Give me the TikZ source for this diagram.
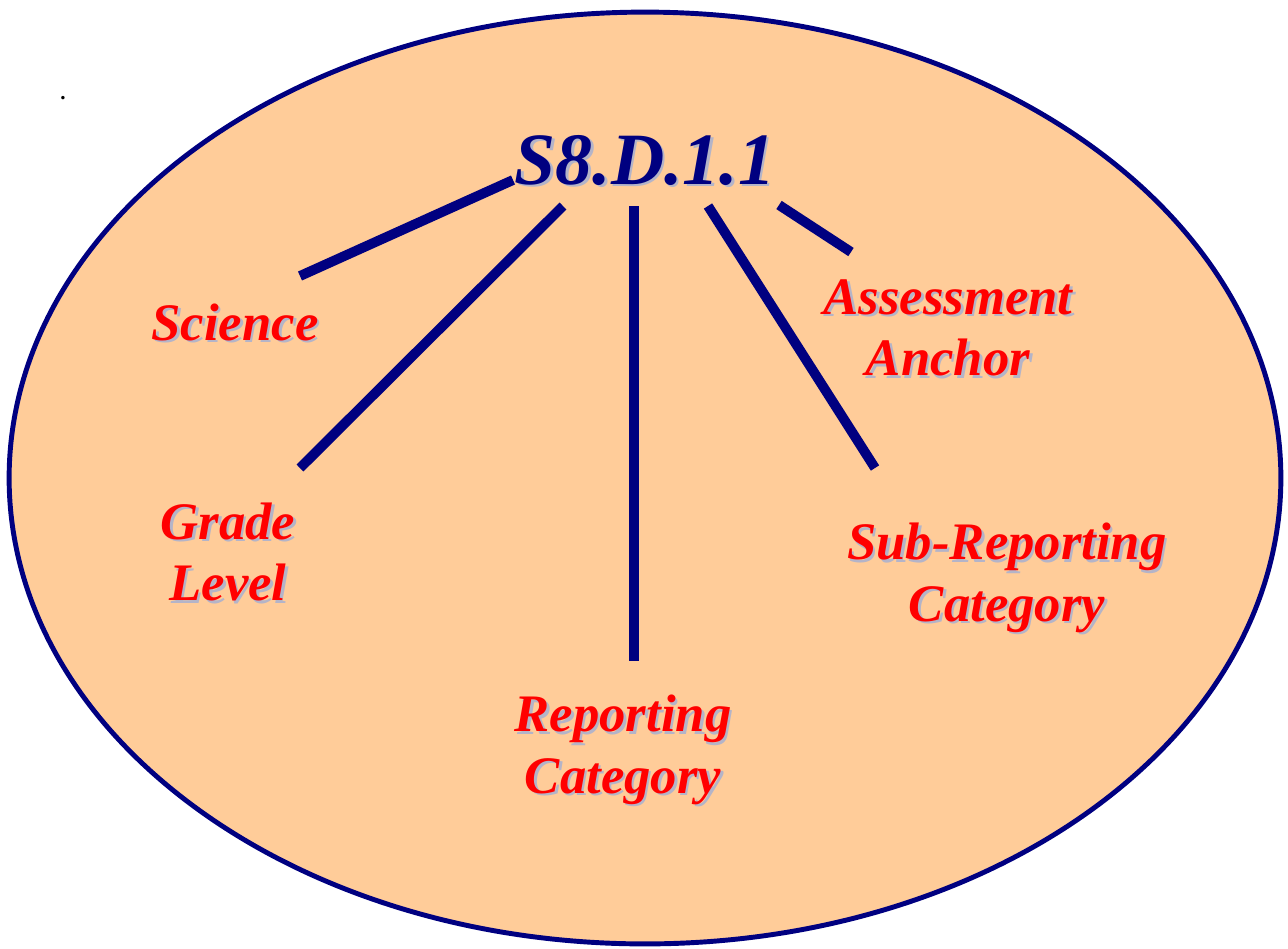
\documentclass[tikz,border=0pt]{standalone}
\usepackage{fontspec}
\setmainfont{Liberation Serif}
\definecolor{peach}{HTML}{FFCC99}
\definecolor{navy}{HTML}{000080}
\definecolor{shade}{HTML}{B4B4C8}
\definecolor{lblred}{HTML}{FF0000}
\newcommand{\shadowlabel}[4]{%
  \node[#3, text=shade, xshift=0.05cm, yshift=-0.05cm] (#1s) at #2 {#4};
  \node[#3] (#1) at #2 {#4};}

\begin{document}
\begin{tikzpicture}[x=0.02cm, y=-0.02cm,
  code/.style={font=\fontsize{42}{42}\selectfont\bfseries\itshape, text=navy, inner sep=0pt},
  tag/.style={font=\fontsize{30}{35}\selectfont\bfseries\itshape, text=lblred, align=center, inner sep=0pt},
  bar/.style={line width=5.6pt, navy}]
\useasboundingbox (0,0) rectangle (1288,948);
\draw[navy, line width=2.8pt, fill=peach] (645,478) ellipse [x radius=12.72cm, y radius=9.32cm];
\node[font=\large\bfseries, inner sep=0pt] (dot) at (63,98) {.};

\shadowlabel{code}{(645,160)}{code}{S8.D.1.1}
\shadowlabel{sci}{(235,322)}{tag}{Science}
\shadowlabel{grade}{(228,552)}{tag}{Grade\\Level}
\shadowlabel{rep}{(623,750)}{tag}{Reporting\\Category}
\shadowlabel{sub}{(1007,578)}{tag}{Sub-Reporting\\Category}
\shadowlabel{anchor}{(948,328)}{tag}{Assessment\\Anchor}

\coordinate (sciA) at (513,180);   \coordinate (sciB) at (300,276);
\coordinate (gradeA) at (563,206); \coordinate (gradeB) at (300,468);
\coordinate (repA) at (634,206);   \coordinate (repB) at (634,661);
\coordinate (subA) at (708,206);   \coordinate (subB) at (875,468);
\coordinate (ancA) at (779,205);   \coordinate (ancB) at (851,252);

\draw[bar] (sciA) -- (sciB);
\draw[bar] (gradeA) -- (gradeB);
\draw[bar] (repA) -- (repB);
\draw[bar] (subA) -- (subB);
\draw[bar] (ancA) -- (ancB);
\end{tikzpicture}
\end{document}
